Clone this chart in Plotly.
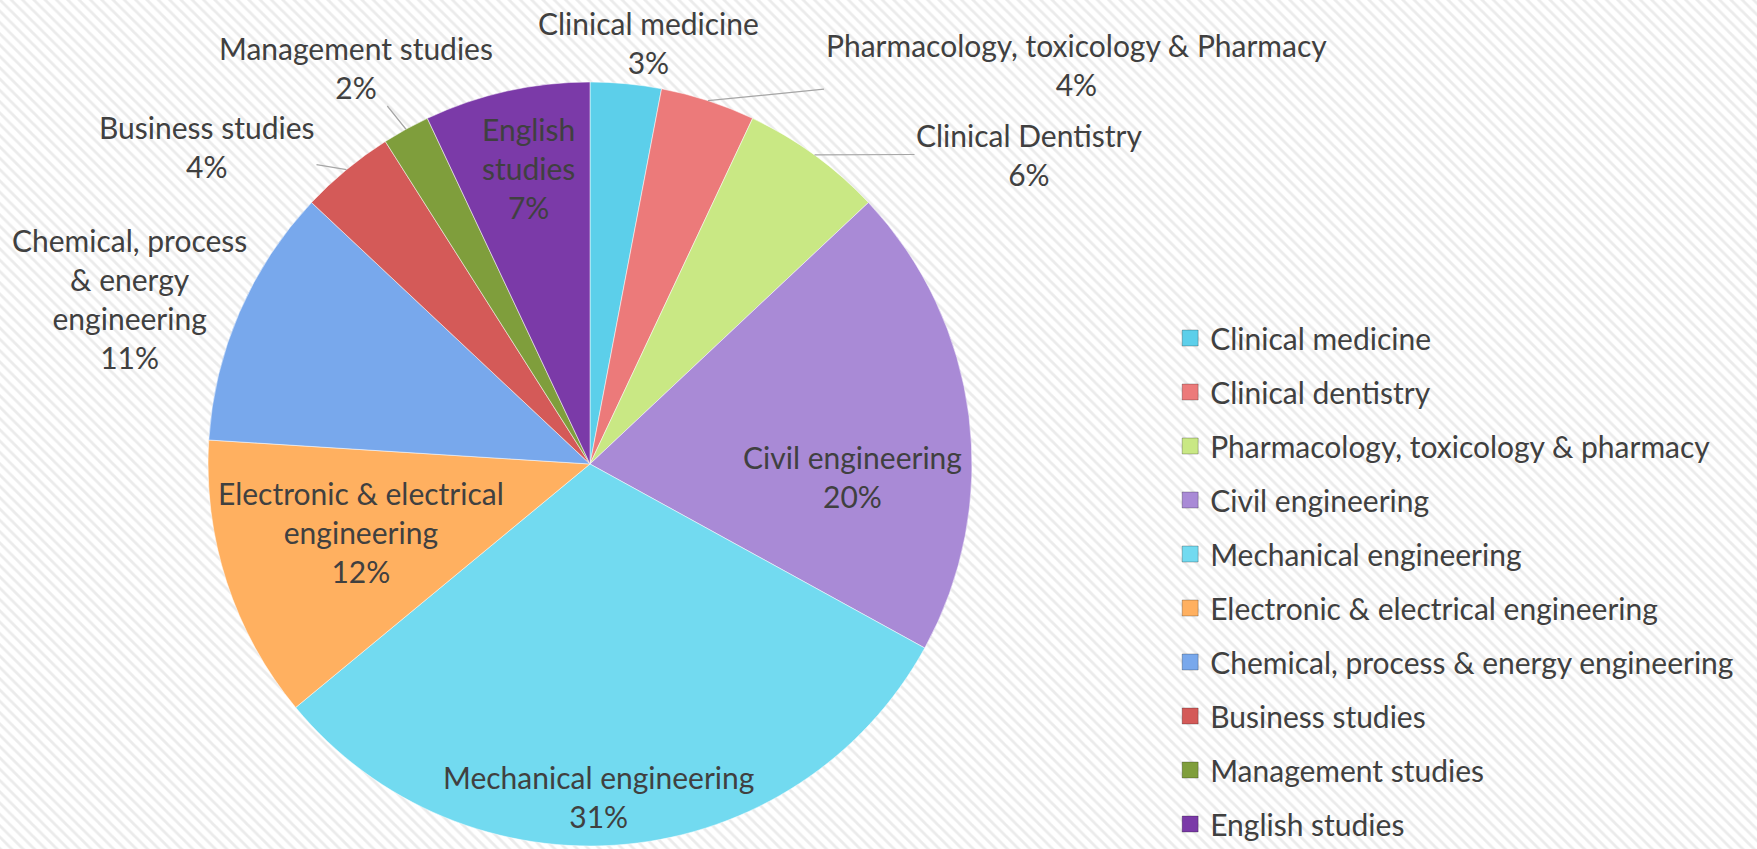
import math
import plotly.graph_objects as go

# legend categories (order of slices, clockwise from 12 o'clock)
categories = [
    "Clinical medicine",
    "Clinical dentistry",
    "Pharmacology, toxicology & pharmacy",
    "Civil engineering",
    "Mechanical engineering",
    "Electronic & electrical engineering",
    "Chemical, process & energy engineering",
    "Business studies",
    "Management studies",
    "English studies",
]
# share of each slice, in percent
values = [3, 4, 6, 20, 31, 12, 11, 4, 2, 7]
# names printed on the slices (as in the original chart)
slice_names = [
    "Clinical medicine",
    "Pharmacology, toxicology & Pharmacy",
    "Clinical Dentistry",
    "Civil engineering",
    "Mechanical engineering",
    "Electronic & electrical<br>engineering",
    "Chemical, process<br>& energy<br>engineering",
    "Business studies",
    "Management studies",
    "English<br>studies",
]

W, H = 1757, 849
COLORS = [
    "#5ccfea",
    "#ec7a7a",
    "#c9e884",
    "#a98ad6",
    "#72daf0",
    "#ffb060",
    "#78a8ec",
    "#d45a58",
    "#7f9e3c",
    "#7b3aa8",
]
TEXT_COLOR = "#404040"
FONT = "Lato"

# pie geometry in pixels
PIE_CX, PIE_CY, PIE_R = 590, 464, 382
# label centres (pixels) and whether a leader line is drawn
LABEL_POS = [
    (648, 42),
    (1076, 64),
    (1029, 154),
    (852, 476),
    (598, 796),
    (361, 532),
    (129, 298),
    (207, 146),
    (356, 67),
    (528, 168),
]
LEADER = [False, True, True, False, False, False, True, True, True, False]

fig = go.Figure()

# hatched background
fig.add_trace(
    go.Bar(
        x=[W / 2],
        y=[H],
        width=[W],
        marker=dict(
            color="white",
            line_width=0,
            pattern=dict(shape="\\", fgcolor="#d8d8d8", bgcolor="white",
                         size=8, solidity=0.35),
        ),
        showlegend=False,
        hoverinfo="skip",
    )
)

fig.add_trace(
    go.Pie(
        labels=categories,
        values=values,
        textinfo="none",
        sort=False,
        direction="clockwise",
        marker=dict(colors=COLORS, line=dict(color="rgba(255,255,255,0.5)", width=1)),
        domain=dict(
            x=[(PIE_CX - PIE_R) / W, (PIE_CX + PIE_R) / W],
            y=[1 - (PIE_CY + PIE_R) / H, 1 - (PIE_CY - PIE_R) / H],
        ),
        showlegend=False,
        automargin=False,
    )
)

# slice labels
total = sum(values)
cum = 0
for name, v, (lx, ly), leader in zip(slice_names, values, LABEL_POS, LEADER):
    mid = (cum + v / 2) / total * 2 * math.pi
    cum += v
    text = f"{name}<br>{v}%"
    if leader:
        fig.add_annotation(
            x=PIE_CX + PIE_R * math.sin(mid),
            y=PIE_CY - PIE_R * math.cos(mid),
            ax=lx,
            ay=ly,
            axref="x",
            ayref="y",
            text=text,
            showarrow=True,
            arrowhead=0,
            arrowwidth=1.2,
            arrowcolor="#a6a6a6",
            standoff=0,
        )
    else:
        fig.add_annotation(x=lx, y=ly, text=text, showarrow=False)

fig.update_annotations(font=dict(family=FONT, size=30, color=TEXT_COLOR), xref="x", yref="y")

# legend entries
for name, color in zip(categories, COLORS):
    fig.add_trace(
        go.Scatter(
            x=[None],
            y=[None],
            mode="markers",
            name=name,
            legendgroup=name,
            marker=dict(symbol="square", size=17, color=color,
                        line=dict(color="rgba(0,0,0,0.25)", width=1)),
        )
    )

fig.update_layout(
    width=W,
    height=H,
    margin=dict(l=0, r=0, t=0, b=0, autoexpand=False),
    paper_bgcolor="white",
    plot_bgcolor="white",
    font=dict(family=FONT, color=TEXT_COLOR),
    xaxis=dict(range=[0, W], domain=[0, 1], visible=False, fixedrange=True),
    yaxis=dict(range=[H, 0], domain=[0, 1], visible=False, fixedrange=True),
    bargap=0,
    legend=dict(
        x=0.666,
        y=1 - 312 / H,
        xanchor="left",
        yanchor="top",
        traceorder="grouped",
        tracegroupgap=12,
        bgcolor="rgba(0,0,0,0)",
        font=dict(family=FONT, size=30, color=TEXT_COLOR),
        itemwidth=30,
    ),
)

fig.write_html(
    "out.html",
    config=dict(displayModeBar=False),
    post_script="document.body.style.margin='0px';document.body.style.overflow='hidden';",
)
